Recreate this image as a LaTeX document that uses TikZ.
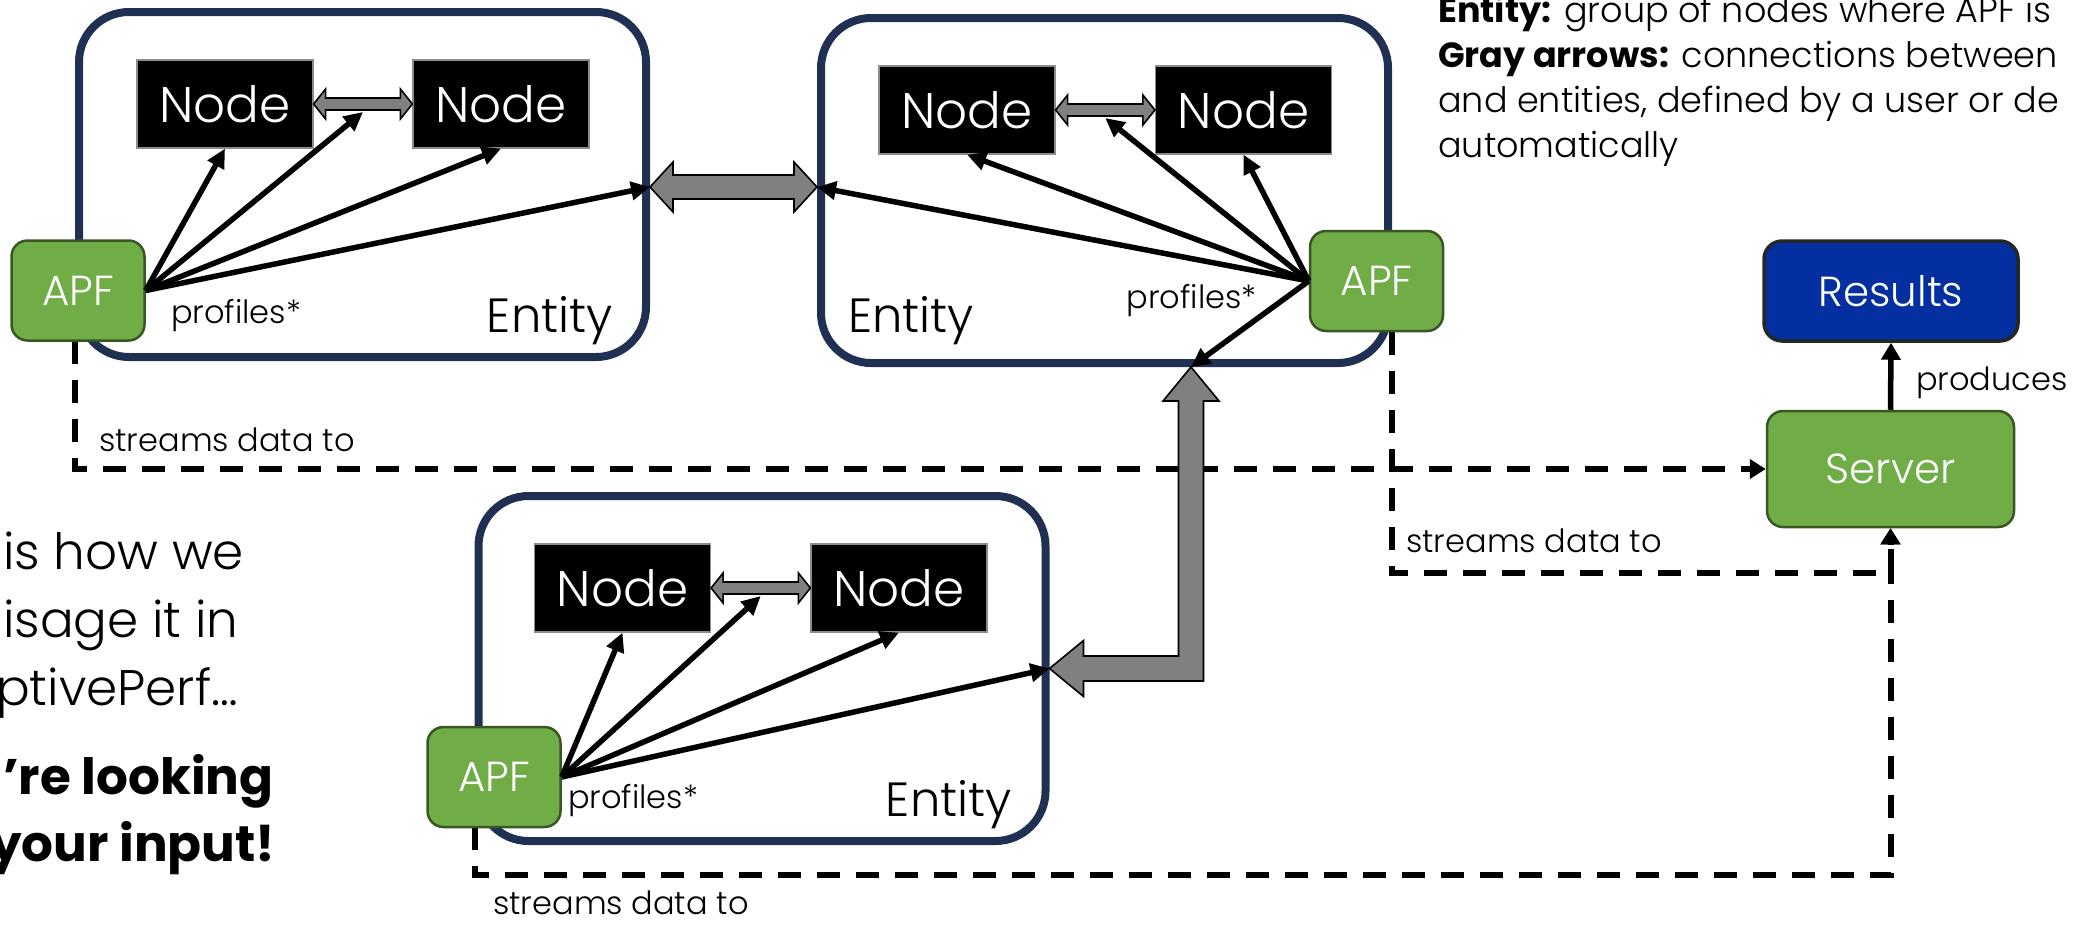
\documentclass[tikz,border=0pt]{standalone}
\usepackage{fontspec}
\setmainfont{Poppins}[UprightFont={* Light},BoldFont={* Bold}]
\usetikzlibrary{arrows.meta,calc}

\definecolor{entityblue}{RGB}{31,48,82}
\definecolor{apfgreen}{RGB}{112,173,71}
\definecolor{apfedge}{RGB}{56,87,35}
\definecolor{resblue}{RGB}{3,47,160}
\definecolor{linkgray}{RGB}{128,128,128}

\newcommand\fs[1]{\fontsize{#1}{#1}\selectfont}

% double-headed block arrow between two points on one horizontal line
% #1 left tip, #2 right tip, #3 head length, #4 half shaft, #5 half head
\newcommand\dblarrow[5]{%
  \path[grayshape] (#1) -- ($(#1)+(#3,-#5)$) -- ($(#1)+(#3,-#4)$)
    -- ($(#2)+(-#3,-#4)$) -- ($(#2)+(-#3,-#5)$) -- (#2)
    -- ($(#2)+(-#3,#5)$) -- ($(#2)+(-#3,#4)$)
    -- ($(#1)+(#3,#4)$) -- ($(#1)+(#3,#5)$) -- cycle;}

\begin{document}
\begin{tikzpicture}[x=1pt,y=-1pt,
  entity/.style={draw=entityblue, line width=8pt, rounded corners=50pt,
    minimum width=567pt, minimum height=345pt, inner sep=0pt, fill=white},
  nodebox/.style={fill=black, draw=black!45, line width=1.2pt,
    minimum width=176pt, minimum height=88pt, inner sep=0pt,
    text=white, font=\fs{50}},
  greenbox/.style={fill=apfgreen, draw=apfedge, line width=2.5pt,
    rounded corners=16pt, inner sep=0pt, text=white, font=\fs{42}},
  apf/.style={greenbox, minimum width=133pt, minimum height=100pt},
  grayshape/.style={fill=linkgray, draw=black, line width=1.6pt, line join=miter},
  profarrow/.style={draw=black, line width=5.5pt,
    -{Triangle[length=19pt,width=18pt]}},
  streamline/.style={draw=black, line width=6pt, dash pattern=on 23pt off 16pt,
    -{Triangle[length=16pt,width=19pt]}},
  smalltext/.style={font=\fs{32}, inner sep=0pt},
  entitytext/.style={font=\fs{48}, inner sep=0pt},
  legendtext/.style={font=\fs{35}, inner sep=0pt, anchor=base west},
  lefttext/.style={font=\fs{50}, inner sep=0pt, anchor=base west}
]
\useasboundingbox (0,0) rectangle (2076,924);
\clip (0,0) rectangle (2076,924);

% entities
\node[entity] (E1) at (362.5,184.5) {};
\node[entity] (E2) at (1104.5,190.5) {};
\node[entity] (E3) at (762,668.5) {};

% nodes inside the entities
\node[nodebox] (N1) at (225,104) {Node};
\node[nodebox] (N2) at (501,104) {Node};
\node[nodebox] (N3) at (967,110) {Node};
\node[nodebox] (N4) at (1243.5,110) {Node};
\node[nodebox] (N5) at (622.5,588) {Node};
\node[nodebox] (N6) at (899,588) {Node};

% server and results
\node[greenbox, minimum width=247pt, minimum height=116pt] (S) at (1890.5,469) {Server};
\node[greenbox, fill=resblue, draw=black!85, line width=3.5pt, rounded corners=18pt,
  minimum width=254pt, minimum height=100pt] (R) at (1891,291) {Results};
\draw[black, line width=5.5pt, -{Triangle[length=17pt,width=19pt]}] (S.north) -- (R.south);
\node[smalltext, anchor=base west] (prod) at (1916,390) {produces};

% APF positions (boxes are drawn last)
\coordinate (a1) at (78,290.5);
\coordinate (a2) at (1376.5,281);
\coordinate (a3) at (494,777);

% data streams, below the gray links
\draw[streamline] (E1.west |- 0,341) |- (S.west);
\draw[streamline] (E2.east |- 0,332) -- ++(0,241) -| (S.south);
\draw[streamline] (E3.west |- 0,827) -- ++(0,48) -| (S.south);
\node[smalltext, anchor=base west] (s1) at (99,451) {streams data to};
\node[smalltext, anchor=base west] (s2) at (1406,552) {streams data to};
\node[smalltext, anchor=base west] (s3) at (493,914) {streams data to};

% links between nodes
\dblarrow{N1.east}{N2.west}{12}{6}{15}
\dblarrow{N3.east}{N4.west}{12}{6}{15}
\dblarrow{N5.east}{N6.west}{12}{6}{15}

% links between entities
\coordinate (gL) at ($(E1.east)+(0,2.5)$);
\coordinate (gR) at (gL -| E2.west);
\dblarrow{gL}{gR}{23}{12}{25}

\coordinate (tipU) at ($(E2.south)+(86.5,0)$);
\coordinate (tipL) at (E3.east);
\coordinate (bend) at (tipU |- tipL);
\path[grayshape] (tipU) -- ($(tipU)+(28,34)$) -- ($(tipU)+(12.5,34)$)
  -- ($(bend)+(12.5,12.5)$) -- ($(tipL)+(34,12.5)$) -- ($(tipL)+(34,28)$)
  -- (tipL) -- ($(tipL)+(34,-28)$) -- ($(tipL)+(34,-12.5)$)
  -- ($(bend)+(-12.5,-12.5)$) -- ($(tipU)+(-12.5,34)$) -- ($(tipU)+(-28,34)$)
  -- cycle;

% points under the node links
\coordinate (m12) at ($(N1.east)!0.5!(N2.west)+(0,8)$);
\coordinate (m34) at ($(N3.east)!0.5!(N4.west)+(0,8)$);
\coordinate (m56) at ($(N5.east)!0.5!(N6.west)+(0,8)$);

% APF agents
\node[apf] (A1) at (a1) {APF};
\node[apf] (A2) at (a2) {APF};
\node[apf] (A3) at (a3) {APF};

% profiling arrows
\foreach \t in {N1.south, m12, N2.south, gL}
  \draw[profarrow] (A1.east) -- (\t);
\foreach \t in {gR, N3.south, m34, N4.south, tipU}
  \draw[profarrow] (A2.west) -- (\t);
\foreach \t in {N5.south, m56, N6.south, tipL}
  \draw[profarrow] (A3.east) -- (\t);

\node[smalltext, anchor=base west] (p1) at (171,323) {profiles*};
\node[smalltext, anchor=base east] (p2) at (1257,308) {profiles*};
\node[smalltext, anchor=base west] (p3) at (568,808) {profiles*};

\node[entitytext, anchor=base east] (t1) at (613,332) {Entity};
\node[entitytext, anchor=base west] (t2) at (848,332) {Entity};
\node[entitytext, anchor=base east] (t3) at (1012,816) {Entity};

% legend
\node[legendtext] (l1) at (1438,22) {\textbf{Entity:} group of nodes where APF is};
\node[legendtext] (l2) at (1438,67) {\textbf{Gray arrows:} connections between};
\node[legendtext] (l3) at (1438,112) {and entities, defined by a user or de};
\node[legendtext] (l4) at (1438,157) {automatically};

% side remark
\node[lefttext] (c1) at (3,569) {is how we};
\node[lefttext] (c2) at (3,637) {isage it in};
\node[lefttext] (c3) at (-4,705) {ptivePerf…};
\node[lefttext, font=\fs{50}\bfseries] (c4) at (3,794) {’re looking};
\node[lefttext, font=\fs{50}\bfseries] (c5) at (-10,861) {your input!};
\end{tikzpicture}
\end{document}
